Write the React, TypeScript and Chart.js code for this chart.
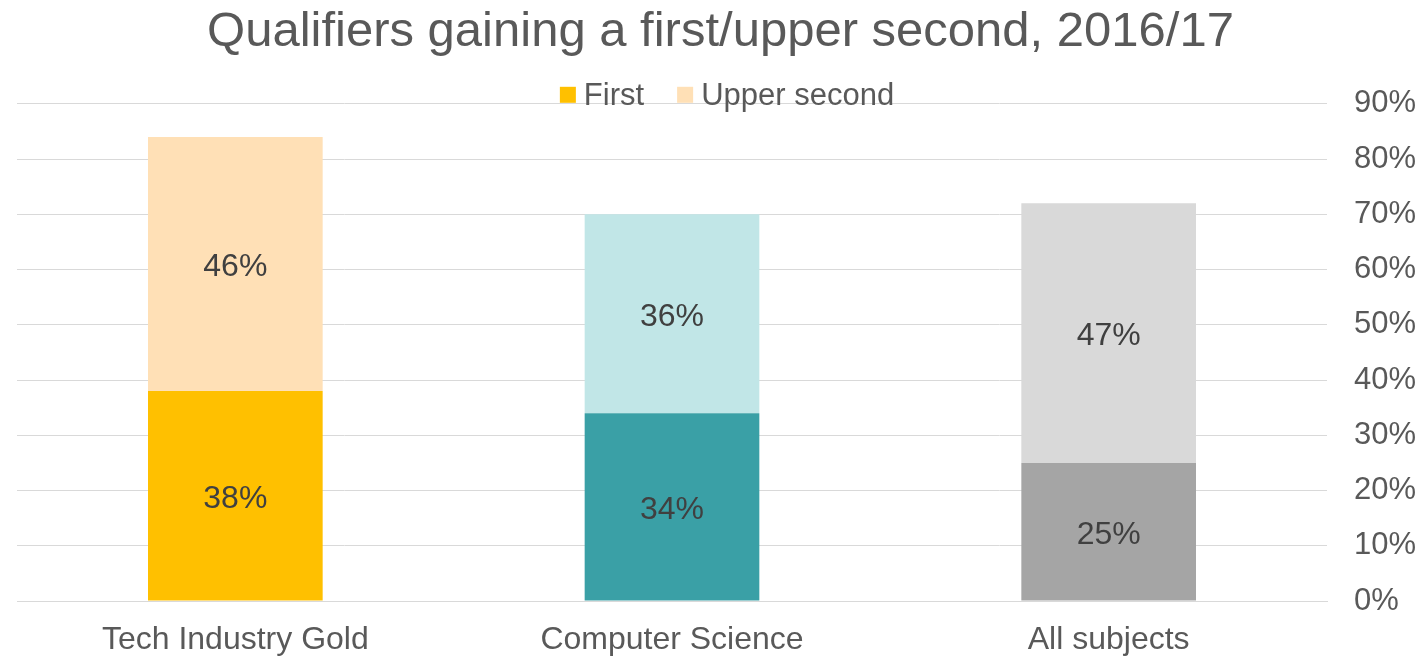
import React, { useEffect, useRef } from "react";
import { Chart, registerables } from "chart.js";

Chart.register(...registerables);

const categories = ["Tech Industry Gold", "Computer Science", "All subjects"];
const firstValues = [38, 34, 25];
const upperSecondValues = [46, 36, 47];
const seriesNames = ["First", "Upper second"];
const firstColors = ["#FFC000", "#3AA0A6", "#A5A5A5"];
const upperColors = ["#FFE0B6", "#C1E6E7", "#D9D9D9"];
const titleText = "Qualifiers gaining a first/upper second, 2016/17";

const FONT = "'Liberation Sans', Arial, sans-serif";
const TEXT = "#595959";

const dataLabelPlugin = {
  id: "dataLabels",
  afterDatasetsDraw(chart: any) {
    const ctx = chart.ctx;
    ctx.save();
    ctx.font = `32px ${FONT}`;
    ctx.fillStyle = "#404040";
    ctx.textAlign = "center";
    ctx.textBaseline = "middle";
    chart.data.datasets.forEach((ds: any, di: number) => {
      const meta = chart.getDatasetMeta(di);
      meta.data.forEach((bar: any, i: number) => {
        const y = (bar.y + bar.base) / 2 + 3;
        ctx.fillText(ds.data[i] + "%", bar.x, y);
      });
    });
    ctx.restore();
  },
};

const legendPlugin = {
  id: "customLegend",
  afterDraw(chart: any) {
    const ctx = chart.ctx;
    ctx.save();
    ctx.font = `31px ${FONT}`;
    ctx.textBaseline = "middle";
    const box = 16;
    const gapText = 8;
    const gapItem = 33;
    const items = chart.data.datasets.map((ds: any) => ({
      label: ds.label,
      color: ds.backgroundColor[0],
      w: ctx.measureText(ds.label).width,
    }));
    const total = items.reduce((s: number, it: any) => s + box + gapText + it.w, 0) + gapItem * (items.length - 1);
    const area = chart.chartArea;
    let x = (area.left + area.right) / 2 + 55 - total / 2;
    const yc = area.top - 9;
    items.forEach((it: any) => {
      ctx.fillStyle = it.color;
      ctx.fillRect(x, yc - box / 2, box, box);
      x += box + gapText;
      ctx.fillStyle = TEXT;
      ctx.textAlign = "left";
      ctx.fillText(it.label, x, yc + 2);
      x += it.w + gapItem;
    });
    ctx.restore();
  },
};

export default function App() {
  const ref = useRef<HTMLCanvasElement | null>(null);
  useEffect(() => {
    document.body.style.margin = "0";
    const canvas = ref.current!;
    const chart = new Chart(canvas, {
      type: "bar",
      data: {
        labels: categories,
        datasets: [
          {
            label: seriesNames[0],
            data: firstValues,
            backgroundColor: firstColors,
            borderWidth: 0,
            categoryPercentage: 1,
            barPercentage: 0.4,
          },
          {
            label: seriesNames[1],
            data: upperSecondValues,
            backgroundColor: upperColors,
            borderWidth: 0,
            categoryPercentage: 1,
            barPercentage: 0.4,
          },
        ],
      },
      options: {
        animation: false,
        responsive: false,
        layout: { padding: { left: 17, right: 0, top: 1, bottom: 0 } },
        plugins: {
          legend: { display: false },
          tooltip: { enabled: false },
          title: {
            display: true,
            text: titleText,
            color: TEXT,
            font: { family: FONT, size: 49, weight: "normal" },
            padding: { top: 2, bottom: 42 },
          },
        },
        scales: {
          x: {
            stacked: true,
            grid: { display: false, drawTicks: false },
            border: { display: true, color: "#D9D9D9", width: 1 },
            ticks: { color: TEXT, font: { family: FONT, size: 32 }, padding: 20 },
            afterFit: (s: any) => {
              s.height = 57;
            },
          },
          y: {
            stacked: true,
            position: "right",
            min: 0,
            max: 90,
            grid: { color: "#D9D9D9", lineWidth: 1, drawTicks: false },
            border: { display: false },
            ticks: {
              stepSize: 10,
              color: TEXT,
              font: { family: FONT, size: 31 },
              padding: 27,
              callback: (v: any) => v + "%",
            },
            afterFit: (s: any) => {
              s.width = 97;
            },
          },
        },
      },
      plugins: [dataLabelPlugin, legendPlugin],
    });
    return () => chart.destroy();
  }, []);
  return <canvas ref={ref} width={1424} height={658} style={{ display: "block" }} />;
}
